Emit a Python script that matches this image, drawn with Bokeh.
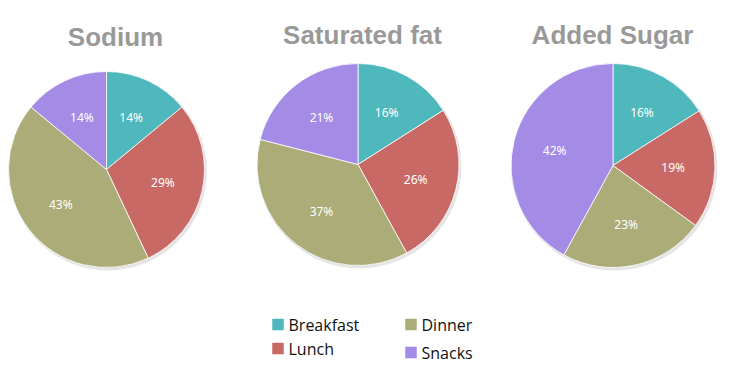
import math
from bokeh.plotting import figure
from bokeh.models import Range1d
from bokeh.core.properties import value
from bokeh.embed import file_html
from bokeh.resources import INLINE

# ---- data ----
meals = ["Breakfast", "Lunch", "Dinner", "Snacks"]
colors = ["#4EB8BD", "#C96966", "#ABAC77", "#A38BE6"]
titles = ["Sodium", "Saturated fat", "Added Sugar"]
sodium = [14, 29, 43, 14]
saturated_fat = [16, 26, 37, 21]
added_sugar = [16, 19, 23, 42]
series = [sodium, saturated_fat, added_sugar]

W, H = 726, 367
p = figure(width=W, height=H, output_backend="svg", toolbar_location=None,
           x_range=Range1d(0, W), y_range=Range1d(0, H), min_border=0)
p.axis.visible = False
p.grid.visible = False
p.outline_line_color = None
p.background_fill_color = "white"

def sx(X):
    return X

def sy(Y):
    return H - Y

# pie layout (screen coords of the reference)
centers = [(106, 169, 98), (357.5, 164, 101), (612.5, 165, 102)]
title_pos = [(115, 36), (362, 34), (612, 34)]

for vals, title, (cx, cy, r), (tx, ty) in zip(series, titles, centers, title_pos):
    x0, y0 = sx(cx), sy(cy)
    # subtle shadow
    p.circle(x=[x0 + 1.5], y=[y0 - 2], radius=r + 1, radius_units="screen",
             fill_color="#000000", fill_alpha=0.10, line_color=None)
    total = float(sum(vals))
    cum = 0.0
    starts, ends, lx, ly, labels = [], [], [], [], []
    for v in vals:
        a0 = math.pi / 2 - 2 * math.pi * cum / total
        cum += v
        a1 = math.pi / 2 - 2 * math.pi * cum / total
        starts.append(a1)
        ends.append(a0)
        mid = (a0 + a1) / 2
        lx.append(x0 + 0.59 * r * math.cos(mid))
        ly.append(y0 + 0.59 * r * math.sin(mid))
        labels.append(f"{v}%")
    p.wedge(x=[x0] * 4, y=[y0] * 4, radius=r, radius_units="screen",
            start_angle=starts, end_angle=ends, direction="anticlock",
            fill_color=colors, line_color="white", line_width=0.8)
    p.text(x=lx, y=ly, text=labels, text_align="center", text_baseline="middle",
           text_color="white", text_font_size="12px", text_font=value("Noto Sans"))
    p.text(x=[sx(tx)], y=[sy(ty)], text=[title], text_align="center",
           text_baseline="middle", text_color="#999999",
           text_font_size="26px", text_font_style="bold",
           text_font=value("Liberation Sans"))

# ---- legend (manual) ----
leg_pos = [(272, 324), (272, 348), (405, 324), (405, 352)]
for name, col, (lxp, lyp) in zip(meals, colors, leg_pos):
    p.rect(x=[sx(lxp + 5.5)], y=[sy(lyp)], width=11, height=11,
           width_units="screen", height_units="screen",
           fill_color=col, line_color=col, line_alpha=0.5)
    p.text(x=[sx(lxp + 16)], y=[sy(lyp)], text=[name], text_align="left",
           text_baseline="middle", text_color="#111111", text_font_size="16px",
           text_font=value("Open Sans"))

open("out.html", "w").write(file_html(p, INLINE))
